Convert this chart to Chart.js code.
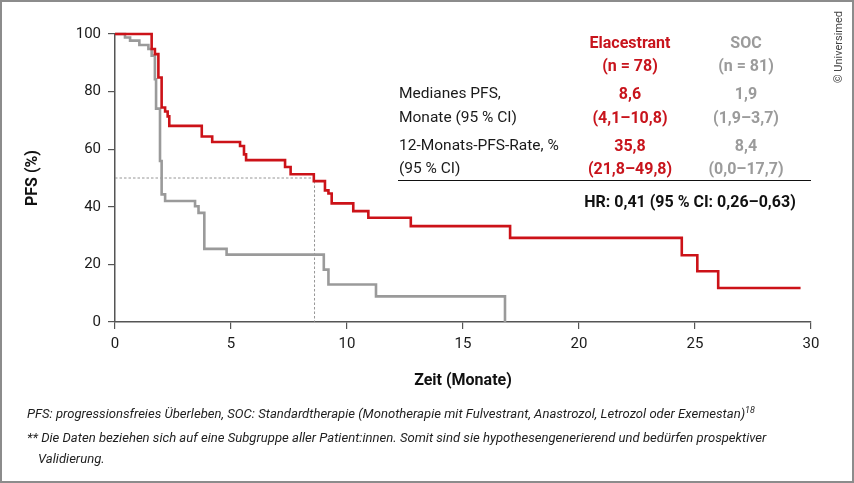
<!DOCTYPE html>
<html>
<head>
<meta charset="utf-8">
<script src="https://cdn.jsdelivr.net/npm/chart.js@4.4.1/dist/chart.umd.min.js"></script>
<style>
  html, body { margin: 0; padding: 0; background: #fff; }
  #wrap { position: relative; width: 854px; height: 483px; overflow: hidden; font-family: Roboto, sans-serif; color: #1a1a1a; }
  #frame { position: absolute; left: 0; top: 0; width: 850px; height: 479px; border: 2px solid #8c8c8c; }
  canvas { position: absolute; left: 0; top: 0; }
  .c { position: absolute; white-space: nowrap; transform: translate(-50%, -50%); font-size: 15.5px; }
  .l { position: absolute; white-space: nowrap; transform: translateY(-50%); font-size: 15.5px; }
  .red { color: #c8141c; font-weight: bold; font-size: 16px; }
  .gray { color: #9b9b9b; font-weight: bold; font-size: 16px; }
  .b { font-weight: bold; color: #111; font-size: 16px; }
  .note { position: absolute; white-space: nowrap; transform: translateY(-50%); font-size: 13.1px; font-style: italic; color: #1e1e1e; }
  #copy { position: absolute; left: 838px; top: 47px; transform: translate(-50%, -50%) rotate(-90deg); font-size: 11px; color: #444; white-space: nowrap; }
  #rule { position: absolute; left: 398px; top: 180px; width: 413px; height: 0; border-top: 1.5px solid #111; }
</style>
</head>
<body>
<div id="wrap">
  <div id="frame"></div>
  <canvas id="chart" width="854" height="483"></canvas>

  <div class="c red" style="left:630px;top:42px">Elacestrant</div>
  <div class="c red" style="left:630px;top:65px">(n = 78)</div>
  <div class="c gray" style="left:746px;top:42px">SOC</div>
  <div class="c gray" style="left:746px;top:65px">(n = 81)</div>

  <div class="l" style="left:399px;top:93px">Medianes PFS,</div>
  <div class="l" style="left:399px;top:117px">Monate (95 % CI)</div>
  <div class="c red" style="left:630px;top:93px">8,6</div>
  <div class="c red" style="left:630px;top:117px">(4,1–10,8)</div>
  <div class="c gray" style="left:746px;top:93px">1,9</div>
  <div class="c gray" style="left:746px;top:117px">(1,9–3,7)</div>

  <div class="l" style="left:399px;top:145px">12-Monats-PFS-Rate, %</div>
  <div class="l" style="left:399px;top:168px">(95 % CI)</div>
  <div class="c red" style="left:630px;top:145px">35,8</div>
  <div class="c red" style="left:630px;top:168px">(21,8–49,8)</div>
  <div class="c gray" style="left:746px;top:145px">8,4</div>
  <div class="c gray" style="left:746px;top:168px">(0,0–17,7)</div>

  <div id="rule"></div>
  <div class="c b" style="left:690px;top:201px">HR: 0,41 (95 % CI: 0,26–0,63)</div>

  <div class="note" style="left:27px;top:413px">PFS: progressionsfreies Überleben, SOC: Standardtherapie (Monotherapie mit Fulvestrant, Anastrozol, Letrozol oder Exemestan)<sup style="font-size:9px">18</sup></div>
  <div class="note" style="left:27px;top:437px">** Die Daten beziehen sich auf eine Subgruppe aller Patient:innen. Somit sind sie hypothesengenerierend und bedürfen prospektiver</div>
  <div class="note" style="left:38px;top:458px">Validierung.</div>

  <div id="copy">© Universimed</div>
</div>

<script>
// Kaplan-Meier steps: time in months, PFS in %
var elaTime = [0, 1.58, 1.72, 1.87, 2.01, 2.16, 2.27, 2.34, 3.74, 4.19, 5.39, 5.56, 5.65, 7.33, 7.57, 8.57, 9.05, 9.2, 9.34, 10.27, 10.92, 12.75, 17.03, 24.43, 25.1, 26.0, 29.55]
var elaPfs  = [100, 94.8, 93.0, 84.9, 74.5, 73.1, 71.4, 68.1, 64.4, 62.5, 61.1, 58.2, 56.2, 53.8, 51.3, 48.9, 45.7, 44.6, 41.2, 38.5, 36.2, 33.3, 29.2, 23.2, 17.6, 11.8, 11.8]

var socTime = [0, 0.43, 0.65, 1.05, 1.44, 1.58, 1.72, 1.77, 1.94, 2.01, 2.16, 3.45, 3.6, 3.85, 4.81, 9.0, 9.2, 11.25, 16.81]
var socPfs  = [100, 98.8, 97.7, 96.2, 94.8, 92.5, 84.3, 74.1, 55.9, 44.3, 42.0, 40.2, 37.9, 25.4, 23.4, 18.2, 13.0, 8.9, 0]

// median guide (Elacestrant median 8,6 months at 50 %)
var medianTime = [0, 8.6, 8.6]
var medianPfs  = [50, 50, 0]

var xTickStep = 5
var yTickStep = 20

function pts(xs, ys){
  return xs.map(function(x, i){ return {x: x, y: ys[i]} })
}

var tickFont = {family: 'Roboto', size: 15}
var titleFont = {family: 'Roboto', size: 16, weight: 'bold'}

new Chart(document.getElementById('chart').getContext('2d'), {
  type: 'line',
  data: {
    datasets: [
      {label: 'Elacestrant', data: pts(elaTime, elaPfs), borderColor: '#cc1218', borderWidth: 2.6,
       stepped: 'before', pointRadius: 0, fill: false, order: 1, clip: false},
      {label: 'SOC', data: pts(socTime, socPfs), borderColor: '#9a9a9a', borderWidth: 2.6,
       stepped: 'before', pointRadius: 0, fill: false, order: 2, clip: false},
      {label: 'Median', data: pts(medianTime, medianPfs), borderColor: '#8a8a8a', borderWidth: 0.9,
       borderDash: [2.5, 2], pointRadius: 0, fill: false, order: 3}
    ]
  },
  options: {
    responsive: false,
    animation: false,
    layout: {padding: {left: 0, top: 34, right: 43, bottom: 91}},
    plugins: {legend: {display: false}, tooltip: {enabled: false}},
    scales: {
      x: {
        type: 'linear', min: 0, max: 30,
        ticks: {stepSize: xTickStep, color: '#1a1a1a', font: tickFont, padding: 6, maxRotation: 0},
        grid: {display: true, drawOnChartArea: false, drawTicks: true, tickLength: 7, color: '#555', lineWidth: 1.2},
        border: {display: true, color: '#555', width: 1.5},
        title: {display: true, text: 'Zeit (Monate)', font: titleFont, color: '#111', padding: {top: 0, bottom: 1}},
        afterFit: function(s){ s.height = 70 }
      },
      y: {
        type: 'linear', min: 0, max: 100,
        ticks: {stepSize: yTickStep, color: '#1a1a1a', font: tickFont, padding: 7},
        grid: {display: true, drawOnChartArea: false, drawTicks: true, tickLength: 7, color: '#555', lineWidth: 1.2},
        border: {display: true, color: '#555', width: 1.5},
        title: {display: true, text: 'PFS (%)', font: titleFont, color: '#111', padding: {top: 23, bottom: 0}},
        afterFit: function(s){ s.width = 115 }
      }
    }
  }
})
</script>
</body>
</html>
